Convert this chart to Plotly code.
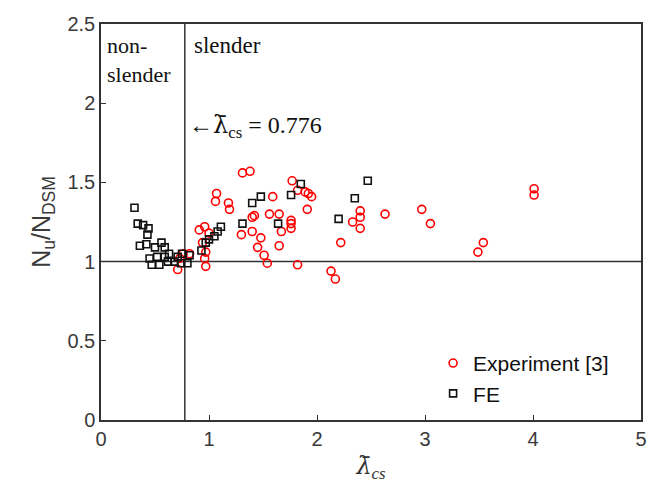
import plotly.graph_objects as go

# Experiment [3] (red circles)
exp_x = [1.31, 1.38, 1.77, 1.82, 1.89, 1.92, 1.95, 1.59, 1.91, 1.42, 1.40, 1.56, 1.65,
         1.76, 1.76, 1.76, 1.67, 1.30, 1.40, 1.48, 1.65, 1.45, 1.51, 1.54, 1.82, 2.13,
         2.17, 2.22, 2.33, 2.40, 2.40, 2.40, 2.63, 2.97, 3.05, 3.54, 3.49, 4.01, 4.01,
         1.18, 1.19, 1.07, 1.06, 0.91, 0.96, 1.00, 0.94, 0.97, 0.96, 0.97, 0.71, 0.73,
         0.76, 0.82]
exp_y = [1.56, 1.57, 1.51, 1.45, 1.44, 1.43, 1.41, 1.41, 1.33, 1.29, 1.28, 1.30, 1.30,
         1.26, 1.24, 1.21, 1.19, 1.17, 1.19, 1.15, 1.10, 1.09, 1.04, 0.99, 0.98, 0.94,
         0.89, 1.12, 1.25, 1.32, 1.28, 1.21, 1.30, 1.33, 1.24, 1.12, 1.06, 1.46, 1.42,
         1.37, 1.33, 1.43, 1.38, 1.20, 1.22, 1.18, 1.12, 1.06, 1.02, 0.97, 0.95, 1.02,
         1.05, 1.05]

# FE (black squares)
fe_x = [0.31, 0.34, 0.39, 0.44, 0.43, 0.36, 0.42, 0.50, 0.56, 0.59, 0.45, 0.47, 0.52,
        0.54, 0.59, 0.62, 0.63, 0.68, 0.71, 0.75, 0.80, 0.74, 0.82, 0.93, 0.97, 1.00,
        1.05, 1.08, 1.11, 1.31, 1.40, 1.48, 1.64, 1.76, 1.85, 2.20, 2.35, 2.47]
fe_y = [1.34, 1.24, 1.23, 1.21, 1.17, 1.10, 1.11, 1.09, 1.12, 1.09, 1.02, 0.98, 1.03,
        0.98, 1.03, 1.00, 1.05, 1.00, 1.03, 1.05, 0.99, 0.99, 1.04, 1.07, 1.12, 1.14,
        1.16, 1.19, 1.22, 1.24, 1.37, 1.41, 1.24, 1.42, 1.49, 1.27, 1.40, 1.51]

lam_limit = 0.776
x_ticks = [0, 1, 2, 3, 4, 5]
y_ticks = [0, 0.5, 1, 1.5, 2, 2.5]

fig = go.Figure()
fig.add_trace(go.Scatter(x=exp_x, y=exp_y, mode="markers", name="Experiment [3]",
                         marker=dict(symbol="circle-open", size=8, color="#ff0000",
                                     line=dict(width=1.6, color="#ff0000"))))
fig.add_trace(go.Scatter(x=fe_x, y=fe_y, mode="markers", name="FE",
                         marker=dict(symbol="square-open", size=7, color="#111111",
                                     line=dict(width=1.6, color="#111111"))))

line_col = "#333333"
fig.add_shape(type="line", x0=lam_limit, x1=lam_limit, y0=0, y1=2.5,
              line=dict(color=line_col, width=1.5), layer="below")
fig.add_shape(type="line", x0=0, x1=5, y0=1, y1=1,
              line=dict(color=line_col, width=1.5), layer="below")

serif = "Liberation Serif, Times New Roman, serif"
lam_bar = "<span style='font-family:DejaVu Serif'>\u03bb\u0304</span>"
fig.add_annotation(x=0.04, y=2.455, text="non-<br>slender", showarrow=False,
                   xanchor="left", yanchor="top", align="left",
                   font=dict(family=serif, size=22, color="#111111"))
fig.add_annotation(x=0.84, y=2.455, text="slender", showarrow=False,
                   xanchor="left", yanchor="top", align="left",
                   font=dict(family=serif, size=23, color="#111111"))
fig.add_annotation(x=0.8, y=1.85, text="\u2190" + lam_bar + "<sub>cs</sub> = 0.776",
                   showarrow=False, xanchor="left", yanchor="middle", align="left",
                   font=dict(family=serif, size=24, color="#111111"))

tick_font = dict(family="Liberation Sans, Arial, sans-serif", size=20, color="#3a3a3a")
fig.update_xaxes(range=[0, 5], tickvals=x_ticks, ticks="inside", ticklen=5,
                 tickcolor=line_col, showline=True, linecolor=line_col, linewidth=1.5,
                 mirror=True, showgrid=False, zeroline=False, tickfont=tick_font,
                 automargin=False, ticklabeloverflow="allow",
                 title=dict(text="<i>" + lam_bar + "<sub>cs</sub></i>", standoff=8,
                            font=dict(family=serif, size=24, color="#333333")))
fig.update_yaxes(range=[0, 2.5], tickvals=y_ticks, ticks="inside", ticklen=5,
                 tickcolor=line_col, showline=True, linecolor=line_col, linewidth=1.5,
                 mirror=True, showgrid=False, zeroline=False, tickfont=tick_font,
                 title=dict(text="N<sub>u</sub>/N<sub>DSM</sub>", standoff=10,
                            font=dict(family="Liberation Sans, Arial, sans-serif", size=25,
                                      color="#3a3a3a")))

fig.update_layout(width=647, height=489, margin=dict(l=101, r=4, t=24, b=69),
                  plot_bgcolor="white", paper_bgcolor="white", showlegend=True,
                  legend=dict(x=0.615, y=0.105, xanchor="left", yanchor="middle",
                              bgcolor="rgba(0,0,0,0)",
                              font=dict(family="Liberation Sans, Arial, sans-serif",
                                        size=21, color="#111111"),
                              tracegroupgap=0, itemsizing="trace"))

fig.write_html("out.html")
